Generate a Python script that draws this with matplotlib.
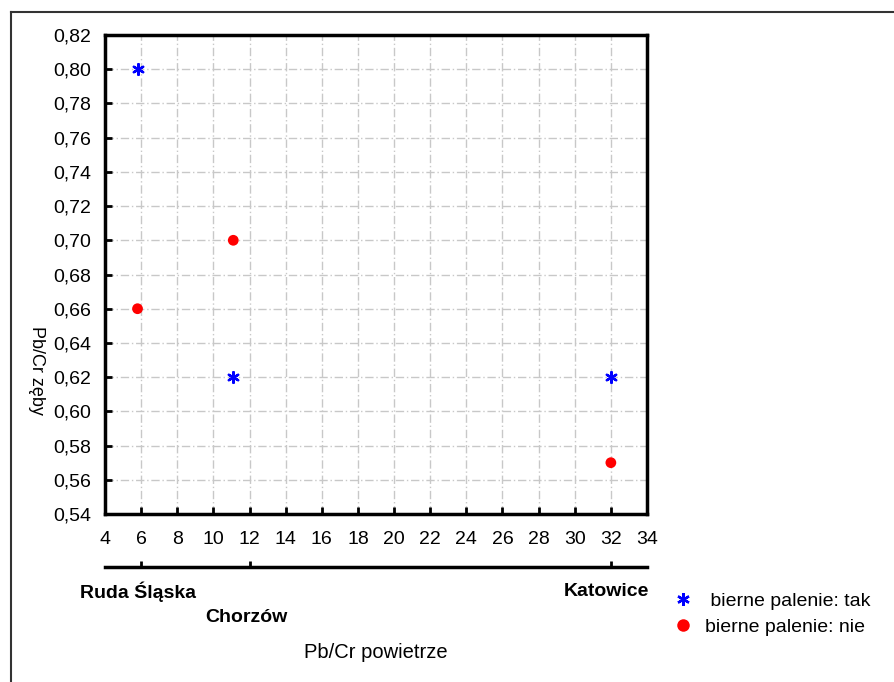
import matplotlib
matplotlib.use("Agg")
import matplotlib.pyplot as plt
from matplotlib.lines import Line2D

plt.rcParams['font.family'] = ['Liberation Sans', 'DejaVu Sans']

# data
tak_x = [5.8, 11.1, 32.0]
tak_y = [0.80, 0.62, 0.62]
nie_x = [5.8, 11.1, 32.0]
nie_y = [0.66, 0.70, 0.57]
xticks = list(range(4, 35, 2))
yticks = [0.54 + 0.02 * i for i in range(15)]
city_pos = [6, 12, 32]
city_names = ["Ruda Śląska", "Chorzów", "Katowice"]
series_labels = [" bierne palenie: tak", "bierne palenie: nie"]

W, H = 895, 682
fig = plt.figure(figsize=(W / 100, H / 100), dpi=100)

# outer frame
fig.add_artist(Line2D([11 / W, 11 / W], [0, 1 - 12 / H], color='#333333', lw=1.5))
fig.add_artist(Line2D([11 / W, 1], [1 - 12 / H, 1 - 12 / H], color='#333333', lw=1.5))

ax_l, ax_r, ax_t, ax_b = 105, 647, 35, 514
ax = fig.add_axes([ax_l / W, 1 - ax_b / H, (ax_r - ax_l) / W, (ax_b - ax_t) / H])

ax.scatter(tak_x, tak_y, marker=(6, 2, 0), s=60, color='blue', linewidths=1.7, zorder=3)
ax.scatter(nie_x, nie_y, marker='o', s=60, color='red', edgecolors='none', zorder=3)

ax.set_xlim(4, 34)
ax.set_ylim(0.54, 0.82)
ax.set_xticks(xticks)
ax.set_xticklabels([str(v) for v in xticks])
ax.set_yticks(yticks)
ax.set_yticklabels([f"{v:.2f}".replace('.', ',') for v in yticks])
ax.tick_params(direction='in', length=5, width=2, labelsize=14)
ax.tick_params(axis='y', pad=10)
ax.tick_params(axis='x', pad=12)
ax.tick_params(top=False, right=False)
ax.grid(True, color='#c8c8c8', linestyle=(0, (6, 2, 1, 2)), linewidth=1)
ax.set_axisbelow(True)
for sp in ax.spines.values():
    sp.set_linewidth(2.5)

# secondary axis with city labels
ax2 = fig.add_axes([ax_l / W, 1 - 567 / H, (ax_r - ax_l) / W, 0.001])
ax2.set_xlim(4, 34)
ax2.set_yticks([])
for s in ['top', 'left', 'right']:
    ax2.spines[s].set_visible(False)
ax2.spines['bottom'].set_linewidth(2.5)
ax2.patch.set_visible(False)
ax2.set_xticks(city_pos)
ax2.set_xticklabels([])
ax2.tick_params(axis='x', direction='in', length=4, width=2)
y_offsets = [-18, -36, -18]
x_offsets = [-2, -2, -3]
for x, name, dy, dx in zip(city_pos, city_names, y_offsets, x_offsets):
    ax2.annotate(name, xy=(x, 0), xycoords=('data', 'axes fraction'),
                 xytext=(dx, dy), textcoords='offset points',
                 ha='center', va='center', fontsize=14, fontweight='bold')

fig.text(376 / W, 1 - 652 / H, "Pb/Cr powietrze", ha='center', va='center', fontsize=14.5)
fig.text(37 / W, 1 - 370 / H, "Pb/Cr zęby", ha='center', va='center', fontsize=13, rotation=-90)

handles = [Line2D([], [], linestyle='none', marker=(6, 2, 0), markersize=9, color='blue', mew=1.7),
           Line2D([], [], linestyle='none', marker='o', markersize=9, color='red', mec='none')]
fig.legend(handles, series_labels, loc='center left', bbox_to_anchor=(653 / W, 1 - 614 / H),
           frameon=False, fontsize=14, handletextpad=0.5, labelspacing=0.4, handlelength=1.3)

fig.savefig("out.png", dpi=100)
